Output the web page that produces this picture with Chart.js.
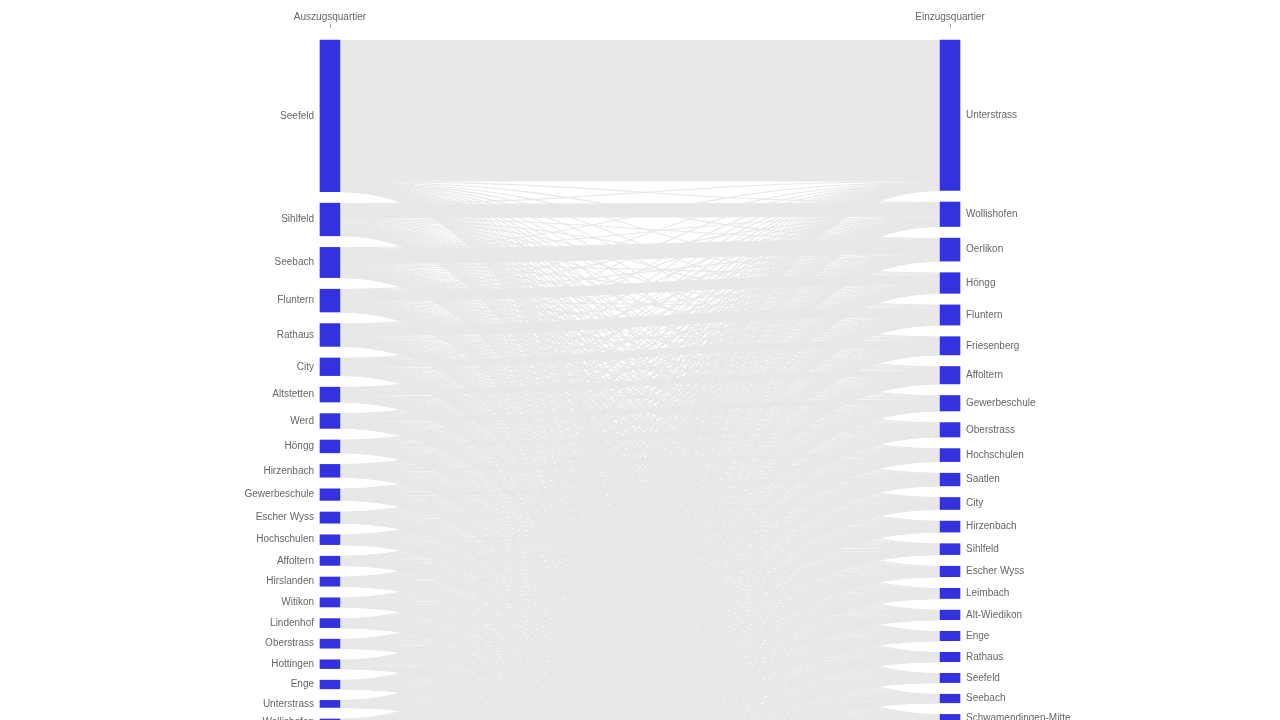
<!DOCTYPE html>
<html>
<head>
<meta charset="utf-8">
<script src="https://cdn.jsdelivr.net/npm/chart.js@4.4.1/dist/chart.umd.min.js"></script>
<style>
html,body{margin:0;padding:0;background:#fff;overflow:hidden}
#wrap{width:1280px;height:720px;position:relative}
</style>
</head>
<body>
<div id="wrap"><canvas id="c"></canvas></div>
<script>
// ---------- data ----------
const columnTitles = ['Auszugsquartier', 'Einzugsquartier'];

const leftNames = ['Seefeld','Sihlfeld','Seebach','Fluntern','Rathaus','City','Altstetten','Werd','Höngg','Hirzenbach',
  'Gewerbeschule','Escher Wyss','Hochschulen','Affoltern','Hirslanden','Witikon','Lindenhof','Oberstrass','Hottingen','Enge',
  'Unterstrass','Wollishofen','Leimbach','Alt-Wiedikon','Friesenberg','Langstrasse','Hard','Mühlebach','Weinegg','Oerlikon',
  'Wipkingen','Albisrieden','Saatlen','Schwamendingen-Mitte'];
const leftValues = [151.6,32.6,30.2,22.8,22.8,17.6,14.8,14.8,12.8,12.8,
  11.6,11.2,9.8,9.2,9.2,9.2,9.0,9.0,8.8,8.6,
  7.0,6.6,6.2,6.0,5.6,5.4,5.0,4.8,4.4,4.2,
  4.0,3.6,3.4,3.0];

const rightNames = ['Unterstrass','Wollishofen','Oerlikon','Höngg','Fluntern','Friesenberg','Affoltern','Gewerbeschule','Oberstrass','Hochschulen',
  'Saatlen','City','Hirzenbach','Sihlfeld','Escher Wyss','Leimbach','Alt-Wiedikon','Enge','Rathaus','Seefeld',
  'Seebach','Schwamendingen-Mitte','Lindenhof','Werd','Langstrasse','Hard','Hottingen','Hirslanden','Witikon','Mühlebach',
  'Weinegg','Wipkingen','Altstetten','Albisrieden'];
const rightValues = [150.4,24.5,23.0,20.6,20.2,18.2,17.4,15.5,14.4,13.0,
  12.7,12.0,11.0,10.9,10.5,10.2,9.6,9.4,9.4,9.3,
  8.6,8.4,7.6,7.0,6.4,6.0,5.6,5.2,4.8,4.4,
  4.0,3.2,2.4,1.8];

// dominant flow of the i-th origin into the i-th destination (the visible solid bands)
const mainFlows = [141,13.5,15,10,10,7,6,5,4,4,
  3.5,3,2.5,2.5,2,2,2,2,2,2,
  1.5,1.5,1.5,1.2,1.2,1,1,1,0.8,0.8,
  0.8,0.6,0.5,0.4];

const NODE_GAP = 11.6;           // vertical padding between nodes (value units)
const NODE_COLOR = '#3431de';
const LINK_COLOR = '#e8e8e8';
const TEXT_COLOR = '#666666';
const MIN_LINK_PX = 1.1;         // hairline links are drawn at least about one pixel wide
const FONT = '"Liberation Sans", Arial, Helvetica, sans-serif';

// ---------- sankey layout built from the arrays ----------
function stackNodes(values) {
  let y = 0;
  return values.map(v => { const n = { y0: y, y1: y + v }; y += v + NODE_GAP; return n; });
}
const leftNodes = stackNodes(leftValues);
const rightNodes = stackNodes(rightValues);

// remaining (non-dominant) moves are split over the destinations in proportion to their remaining inflow
const rowRest = leftValues.map((v, i) => v - mainFlows[i]);
const colRest = rightValues.map((v, j) => v - mainFlows[j]);
const colRestTotal = colRest.reduce((a, b) => a + b, 0);

const links = [];
leftValues.forEach((_, i) => {
  rightValues.forEach((_, j) => {
    const v = rowRest[i] * colRest[j] / colRestTotal + (i === j ? mainFlows[i] : 0);
    links.push({ s: i, t: j, v });
  });
});
const srcOff = leftNodes.map(n => n.y0);
links.forEach(l => { l.sy = srcOff[l.s]; srcOff[l.s] += l.v; });
const tgtOff = rightNodes.map(n => n.y0);
links.slice().sort((a, b) => a.t - b.t || a.s - b.s).forEach(l => { l.ty = tgtOff[l.t]; tgtOff[l.t] += l.v; });

// ---------- plugins ----------
const linkPlugin = {
  id: 'sankeyLinks',
  beforeDatasetsDraw(chart) {
    const { ctx } = chart;
    const y = chart.scales.y;
    const m0 = chart.getDatasetMeta(0).data[0];
    const m1 = chart.getDatasetMeta(1).data[0];
    const xs = m0.x + m0.width / 2 + 1;
    const xt = m1.x - m1.width / 2 - 1;
    const xm = (xs + xt) / 2;
    const k = Math.abs(y.getPixelForValue(1) - y.getPixelForValue(0));
    ctx.save();
    ctx.strokeStyle = LINK_COLOR;
    ctx.lineCap = 'butt';
    links.forEach(l => {
      const ys = y.getPixelForValue(l.sy + l.v / 2);
      const yt = y.getPixelForValue(l.ty + l.v / 2);
      ctx.lineWidth = Math.max(l.v * k, MIN_LINK_PX);
      ctx.beginPath();
      ctx.moveTo(xs, ys);
      ctx.bezierCurveTo(xm, ys, xm, yt, xt, yt);
      ctx.stroke();
    });
    ctx.restore();
  }
};

const labelPlugin = {
  id: 'nodeLabels',
  afterDatasetsDraw(chart) {
    const { ctx } = chart;
    ctx.save();
    ctx.fillStyle = TEXT_COLOR;
    ctx.font = '10px ' + FONT;
    ctx.textBaseline = 'middle';
    chart.getDatasetMeta(0).data.forEach((el, i) => {
      ctx.textAlign = 'right';
      ctx.fillText(leftNames[i], el.x - el.width / 2 - 6, (el.y + el.base) / 2);
    });
    chart.getDatasetMeta(1).data.forEach((el, i) => {
      ctx.textAlign = 'left';
      ctx.fillText(rightNames[i], el.x + el.width / 2 + 6, (el.y + el.base) / 2);
    });
    ctx.restore();
  }
};

// ---------- chart ----------
new Chart(document.getElementById('c'), {
  type: 'bar',
  data: {
    labels: columnTitles,
    datasets: [
      { label: columnTitles[0], data: leftNodes.map(n => ({ x: columnTitles[0], y: [n.y0, n.y1] })),
        backgroundColor: NODE_COLOR, barThickness: 20, grouped: false, clip: false, borderWidth: 0 },
      { label: columnTitles[1], data: rightNodes.map(n => ({ x: columnTitles[1], y: [n.y0, n.y1] })),
        backgroundColor: NODE_COLOR, barThickness: 20, grouped: false, clip: false, borderWidth: 0 }
    ]
  },
  options: {
    responsive: true,
    maintainAspectRatio: false,
    animation: false,
    events: [],
    layout: { padding: { top: 10, left: 20, right: 20, bottom: 0 } },
    plugins: { legend: { display: false }, tooltip: { enabled: false } },
    scales: {
      x: {
        position: 'top',
        offset: true,
        grid: { offset: false, drawOnChartArea: false, tickLength: 4, color: '#aaaaaa', lineWidth: 1 },
        border: { display: false },
        ticks: { padding: 1, color: TEXT_COLOR, font: { size: 10, family: FONT } }
      },
      y: { type: 'linear', reverse: true, min: -12, max: 680, display: false }
    }
  },
  plugins: [linkPlugin, labelPlugin]
});
</script>
</body>
</html>
